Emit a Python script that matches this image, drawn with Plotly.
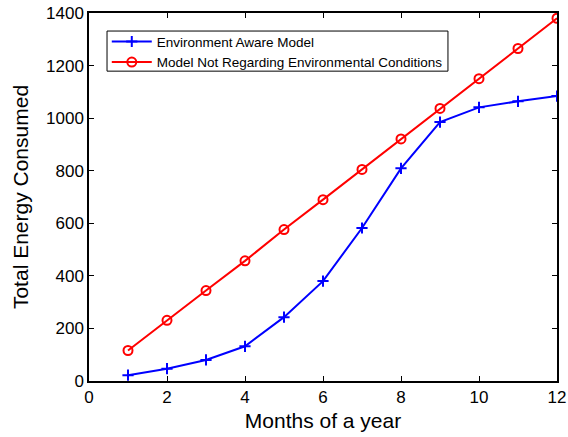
import plotly.graph_objects as go

months = [1, 2, 3, 4, 5, 6, 7, 8, 9, 10, 11, 12]
aware = [22, 47, 80, 132, 243, 380, 582, 809, 985, 1041, 1064, 1084]
not_regarding = [116, 231, 344, 457, 576, 690, 805, 921, 1037, 1150, 1265, 1380]
x_ticks = [0, 2, 4, 6, 8, 10, 12]
y_ticks = [0, 200, 400, 600, 800, 1000, 1200, 1400]

FONT = "Liberation Sans, Arial, sans-serif"

fig = go.Figure()
fig.add_trace(go.Scatter(
    x=months, y=aware, mode="lines+markers", name="Environment Aware Model",
    line=dict(color="#0000ff", width=2),
    marker=dict(symbol="cross-thin-open", size=8, color="#0000ff",
                line=dict(color="#0000ff", width=2)),
))
fig.add_trace(go.Scatter(
    x=months, y=not_regarding, mode="lines+markers",
    name="Model Not Regarding Environmental Conditions",
    line=dict(color="#ff0000", width=2),
    marker=dict(symbol="circle-open", size=9, color="#ff0000",
                line=dict(color="#ff0000", width=2)),
))

axis_common = dict(
    showgrid=False, zeroline=False, showline=True, linecolor="black", linewidth=1.5,
    mirror="ticks", ticks="inside", ticklen=5, tickcolor="black", tickwidth=1,
    tickfont=dict(family=FONT, size=17, color="black"),
)
fig.update_xaxes(range=[0, 12], tickvals=x_ticks,
                 title=dict(text="Months of a year", standoff=7,
                            font=dict(family=FONT, size=21, color="black")),
                 **axis_common)
fig.update_yaxes(range=[0, 1400], tickvals=y_ticks,
                 title=dict(text="Total Energy Consumed", standoff=12,
                            font=dict(family=FONT, size=21, color="black")),
                 **axis_common)

# legend frame
fig.add_shape(type="rect", xref="paper", yref="paper",
              x0=0.0385, x1=0.767, y0=0.842, y1=0.951,
              line=dict(color="black", width=1), fillcolor="white", layer="below")

fig.update_layout(
    width=568, height=437,
    margin=dict(l=89, r=11, t=13, b=56, autoexpand=False),
    paper_bgcolor="white", plot_bgcolor="white",
    legend=dict(x=0.038, y=0.964, xanchor="left", yanchor="top",
                bgcolor="rgba(0,0,0,0)", borderwidth=0,
                font=dict(family=FONT, size=13.5, color="black"),
                tracegroupgap=0, itemwidth=40),
    showlegend=True,
)

fig.write_html("out.html", config={"displayModeBar": False},
               post_script="document.body.style.margin='0';document.body.style.padding='0';")
